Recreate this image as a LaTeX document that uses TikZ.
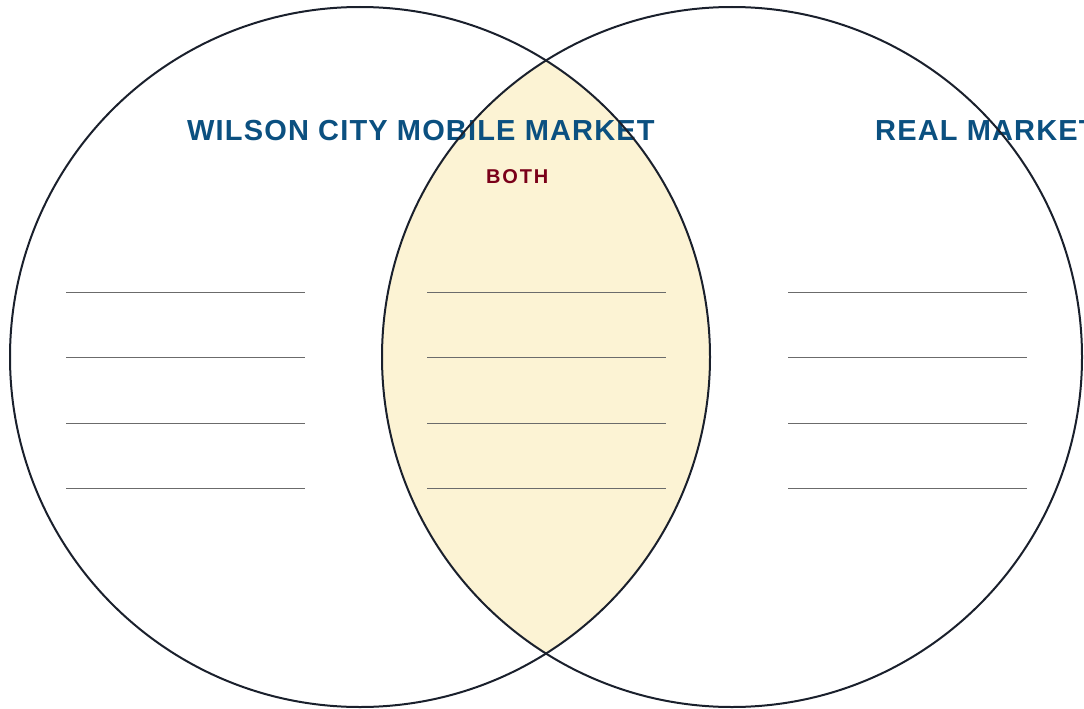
\documentclass[tikz,border=0pt]{standalone}
\usepackage{fontspec}
\setmainfont{Liberation Sans}
\newfontfamily\headfont[LetterSpace=4]{Liberation Sans}
\newfontfamily\bothfont[LetterSpace=9]{Liberation Sans}
\definecolor{vennblue}{HTML}{0B5080}
\definecolor{bothred}{HTML}{7A0019}
\definecolor{lensfill}{HTML}{FCF3D4}
\definecolor{ringline}{HTML}{1A202C}
\definecolor{writeline}{HTML}{6B6B6B}
\begin{document}
\begin{tikzpicture}[x=1pt, y=-1pt,
    ring/.style={draw=ringline, line width=2pt},
    heading/.style={text=vennblue, anchor=base west, inner sep=0pt,
        font=\headfont\bfseries\fontsize{29}{30}\selectfont},
    overlap/.style={text=bothred, anchor=base west, inner sep=0pt,
        font=\bothfont\bfseries\fontsize{20}{22}\selectfont},
    blank/.style={draw=writeline, line width=1pt}]
    \useasboundingbox (0,0) rectangle (1084,709);

    % shared region of the two sets
    \begin{scope}
        \clip (360,357) circle (350);
        \fill[lensfill] (732,357) circle (350);
    \end{scope}

    % lines to write on
    \foreach \col in {66,427,788} {
        \foreach \row in {292,357,423,488} {
            \draw[blank] (\col,\row) -- ++(239,0);
        }
    }

    % set names
    \node[heading] (wilson) at (187,140) {WILSON CITY MOBILE MARKET};
    \node[heading] (real) at (875,140) {REAL MARKET};
    \node[overlap] (both) at (486,183) {BOTH};

    % the two sets
    \node[ring, circle, minimum size=700pt, inner sep=0pt] (left) at (360,357) {};
    \node[ring, circle, minimum size=700pt, inner sep=0pt] (right) at (732,357) {};
\end{tikzpicture}
\end{document}
